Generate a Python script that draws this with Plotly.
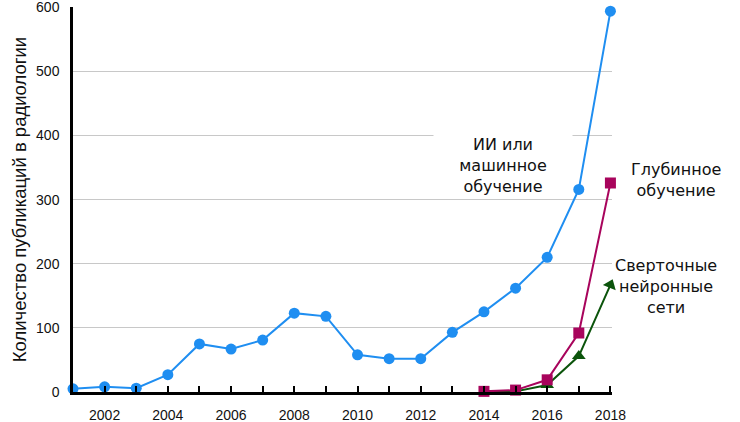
import plotly.graph_objects as go

# Data
years = list(range(2001, 2019))
ai_ml = [5, 8, 6, 27, 75, 67, 81, 123, 118, 58, 52, 52, 93, 125, 162, 210, 316, 594]

dl_years = [2014, 2015, 2016, 2017, 2018]
deep_learning = [1, 3, 19, 92, 326]

cnn_years = [2014, 2015, 2016, 2017, 2018]
cnn = [0, 1, 11, 56, 167]

BLUE = "#1f8ef1"
RED = "#a8045c"
GREEN = "#0b540b"

fig = go.Figure()

fig.add_trace(go.Scatter(
    x=cnn_years, y=cnn, mode="lines+markers",
    line=dict(color=GREEN, width=2),
    marker=dict(color=GREEN, size=12, symbol="triangle-up",
                angle=[0, 0, 0, 0, 22]),
    showlegend=False, cliponaxis=False
))

fig.add_trace(go.Scatter(
    x=dl_years, y=deep_learning, mode="lines+markers",
    line=dict(color=RED, width=2),
    marker=dict(color=RED, size=11, symbol="square"),
    showlegend=False, cliponaxis=False
))

fig.add_trace(go.Scatter(
    x=years, y=ai_ml, mode="lines+markers",
    line=dict(color=BLUE, width=2),
    marker=dict(color=BLUE, size=11, symbol="circle"),
    showlegend=False, cliponaxis=False
))

ann_font = dict(family="DejaVu Sans", size=16, color="#111111")

fig.add_annotation(
    x=2014.6, y=354, xref="x", yref="y",
    text="ИИ или<br>машинное<br>обучение",
    showarrow=False, font=ann_font, align="center",
    bgcolor="white", width=138, borderpad=0
)
fig.add_annotation(
    x=1.119, y=330, xref="paper", yref="y", xanchor="center",
    text="Глубинное<br>обучение",
    showarrow=False, font=ann_font, align="center"
)
fig.add_annotation(
    x=1.100, y=164, xref="paper", yref="y", xanchor="center",
    text="Сверточные<br>нейронные<br>сети",
    showarrow=False, font=ann_font, align="center"
)

fig.update_layout(
    width=740, height=422,
    margin=dict(l=73, r=128, t=7, b=30),
    plot_bgcolor="white", paper_bgcolor="white",
    hovermode=False,
    font=dict(family="Liberation Sans, Arial", size=14, color="#111111"),
)

fig.update_xaxes(
    range=[2001, 2018.05],
    tick0=2002, dtick=2,
    ticks="inside", ticklen=6, tickwidth=2, tickcolor="black",
    minor=dict(dtick=1, tick0=2001, ticks="inside", ticklen=6,
               tickwidth=2, tickcolor="black", showgrid=False),
    showline=True, linecolor="black", linewidth=2.5,
    showgrid=False, zeroline=False, automargin=False,
    ticklabelstandoff=8, ticklabeloverflow="allow",
    tickfont=dict(size=14),
)

fig.update_yaxes(
    range=[0, 600.5], tickvals=[0, 100, 200, 300, 400, 500, 600],
    showline=True, linecolor="black", linewidth=2.5,
    showgrid=True, gridcolor="#c8c8c8", gridwidth=1,
    zeroline=False, ticks="", automargin=False,
    ticklabelstandoff=8, ticklabeloverflow="allow",
    tickfont=dict(size=14),
    title=dict(text="Количество публикаций в радиологии",
               font=dict(size=18.5), standoff=5),
)

# drop the default 8px body margin so the figure sits at the window corner
fig.write_html("out.html", config={"displayModeBar": False},
               post_script="document.body.style.margin='0px';")
